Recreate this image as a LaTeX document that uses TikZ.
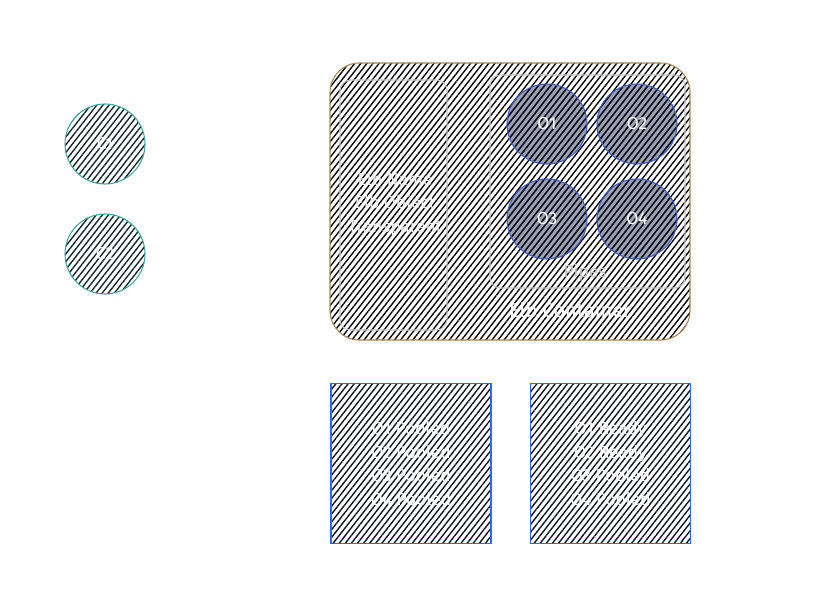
\documentclass[tikz,border=0pt]{standalone}
\usepackage{fontspec}
\setmainfont{Fira Sans}
\usetikzlibrary{patterns.meta}
\definecolor{elbbrown}{HTML}{A8844C}
\definecolor{obblue}{HTML}{3B5BC8}
\definecolor{boxblue}{HTML}{3366EE}
\definecolor{cteal}{HTML}{3AA8A0}
\definecolor{panelgray}{HTML}{C4C4C4}
\begin{document}
\begin{tikzpicture}[x=0.75pt, y=-0.75pt,
		every node/.style={text=white, align=center, font=\fontsize{13}{17.6}\selectfont},
		hatch/.style={pattern={Lines[angle=52,distance=3.6pt,line width=1pt]}, pattern color=#1},
		ccirc/.style={circle, draw=cteal, thick, hatch=black!80!cteal, minimum size=60pt},
		ocirc/.style={circle, draw=obblue, thick, hatch=black!80!obblue, minimum size=60pt,
			preaction={fill=obblue!25!black, fill opacity=0.4}},
		statebox/.style={draw=boxblue, thick, hatch=black!85!obblue, minimum width=120pt,
			minimum height=120pt, inner sep=0pt},
		panel/.style={draw=panelgray, thick, rounded corners=8pt, inner sep=0pt}]
	\useasboundingbox (0,0) rectangle (827,611);
	% clients
	\node[ccirc] (c1) at (105,144) {C1};
	\node[ccirc] (c2) at (105,254) {C2};
	% elb container
	\node[draw=elbbrown, thick, rounded corners=22pt, hatch=black, minimum width=270pt,
		minimum height=207.75pt] (elb) at (510,201.5) {};
	\node[panel, minimum width=80.25pt, minimum height=187.5pt] (info) at (393.5,205) {};
	\node[text=white!85!gray] (infotext) at (395,204) {Elb Name\\Elb Object\\Transparent};
	\node[panel, minimum width=146.25pt, minimum height=159.75pt] (pipes) at (587.5,181.5) {};
	\node[ocirc] (o1) at (547,124) {O1};
	\node[ocirc] (o2) at (637,124) {O2};
	\node[ocirc] (o3) at (547,219) {O3};
	\node[ocirc] (o4) at (637,219) {O4};
	\node[text=panelgray] (pipeslabel) at (585,273) {Pipes};
	\node[font=\fontsize{15}{17}\selectfont] (elblabel) at (570,310) {Elb Container};
	% pool states
	\node[statebox] (pooled) at (411,463.5) {O1 Pooled\\O2 Pooled\\O3 Pooled\\O4 Pooled};
	\node[statebox] (ready) at (610.5,463.5) {O1 Ready\\O2 Ready\\O3 Pooled\\O4 Pooled};
\end{tikzpicture}
\end{document}
